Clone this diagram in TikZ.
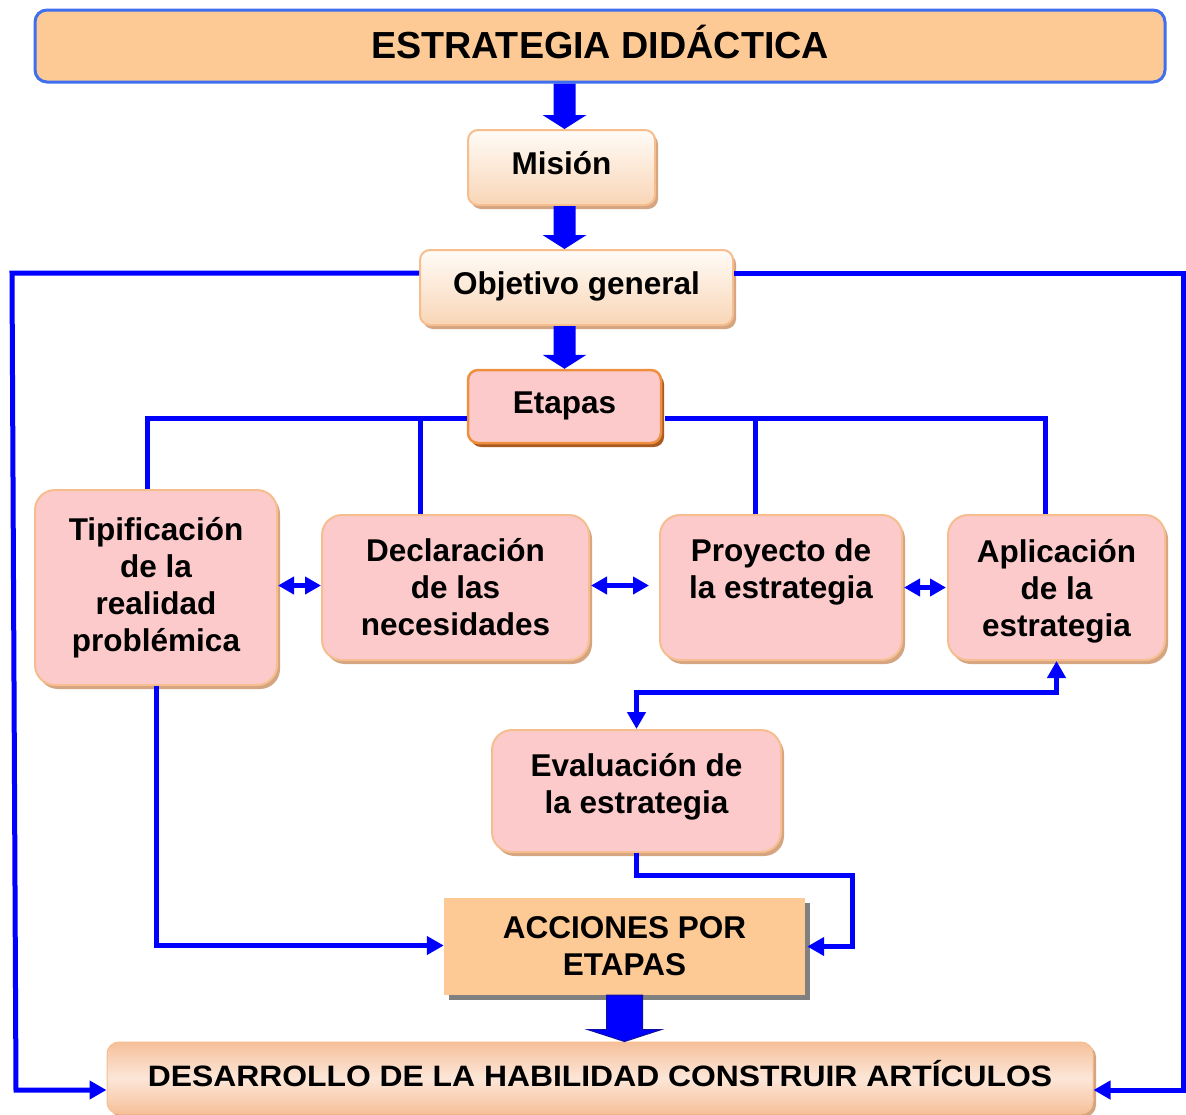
\documentclass[tikz,border=0pt]{standalone}
\usepackage{fontspec}
\setmainfont{Liberation Sans}
\newfontfamily\desfont[FakeStretch=1.08]{Liberation Sans}
\usetikzlibrary{arrows.meta,calc,shadows}
\definecolor{peach}{HTML}{FDCA96}
\definecolor{titleborder}{HTML}{3F6FEF}
\definecolor{pinkfill}{HTML}{FCCACA}
\definecolor{pinkborder}{HTML}{F6BE8F}
\definecolor{pinkshadow}{HTML}{D5A582}
\definecolor{etborder}{HTML}{EE8F40}
\definecolor{etshadow}{HTML}{A85A20}
\definecolor{gradtop}{HTML}{FFFBF7}
\definecolor{gradbot}{HTML}{F9D6B6}
\definecolor{desA}{HTML}{F6C09A}
\definecolor{desB}{HTML}{FCE6D8}
\definecolor{arrowedge}{HTML}{1010A0}
\newcommand\blkarrow[6]{%
  \path let \p1=(#2), \p2=(#3) in [#1]
    (\x1-#4,\y1) -- (\x1+#4,\y1) -- (\x1+#4,\y2+#6) -- (\x1+#5,\y2+#6)
    -- (\x1,\y2) -- (\x1-#5,\y2+#6) -- (\x1-#4,\y2+#6) -- cycle;}
\tikzset{
  bodyfont/.style={font=\fontsize{31.5}{37}\selectfont\bfseries},
  oneline/.style={text height=22.5pt, text depth=8pt},
  pinkbox/.style={bodyfont, align=center, inner sep=0pt, rounded corners=20pt,
    fill=pinkfill, draw=pinkborder, line width=2pt,
    drop shadow={shadow xshift=3pt, shadow yshift=-4pt, fill=pinkshadow, opacity=1}},
  gradbox/.style={bodyfont, oneline, align=center, inner sep=0pt, rounded corners=10pt,
    top color=gradtop, bottom color=gradbot, draw=pinkborder, line width=2pt,
    drop shadow={shadow xshift=3pt, shadow yshift=-4pt, fill=pinkshadow, opacity=1}},
  conn/.style={draw=blue, line width=5pt, -{Triangle[length=17pt,width=18pt]}},
  plain/.style={draw=blue, line width=5pt},
  dbl/.style={draw=blue, line width=5pt, {Triangle[length=16pt,width=17pt]}-{Triangle[length=16pt,width=17pt]}},
}
\begin{document}
\begin{tikzpicture}[x=1pt,y=-1pt]
\useasboundingbox (0,0) rectangle (1186,1114);
\fill[white] (0,0) rectangle (1186,1114);

% nodes
\node[draw=titleborder, line width=3pt, fill=peach, rounded corners=12pt,
  minimum width=1130pt, minimum height=72pt, inner sep=0pt, text height=27pt, text depth=2pt,
  font=\fontsize{37.7}{42}\selectfont\bfseries] (title) at (600,46) {ESTRATEGIA DIDÁCTICA};

\node[gradbox, minimum width=187pt, minimum height=75pt] (mis) at (561.5,167.5) {Misión};
\node[gradbox, minimum width=313pt, minimum height=75pt] (obj) at (576.5,287.5) {Objetivo general};
\node[bodyfont, oneline, inner sep=0pt, rounded corners=10pt, fill=pinkfill, draw=etborder, line width=2.5pt,
  drop shadow={shadow xshift=3pt, shadow yshift=-4pt, fill=etshadow, opacity=1},
  minimum width=193pt, minimum height=73pt] (eta) at (564.5,406.5) {Etapas};

\node[pinkbox, minimum width=242pt, minimum height=195pt] (tip) at (156,587.5)
  {Tipificación\\de la\\realidad\\problémica};
\node[pinkbox, minimum width=267pt, minimum height=145pt] (dec) at (455.5,587.5)
  {Declaración\\de las\\necesidades};
\node[pinkbox, minimum width=242pt, minimum height=145pt] (pro) at (781,587.5)
  {Proyecto de\\la estrategia\\\mbox{}};
\node[pinkbox, text depth=0pt, minimum width=217pt, minimum height=145pt] (apl) at (1056.5,587.5)
  {Aplicación\\de la\\estrategia};
\node[pinkbox, text depth=14.5pt, minimum width=289pt, minimum height=122pt] (eva) at (636.5,791)
  {Evaluación de\\la estrategia};

\node[bodyfont, align=center, inner sep=0pt, fill=peach,
  drop shadow={shadow xshift=5pt, shadow yshift=-5pt, fill=gray, opacity=1},
  minimum width=361pt, minimum height=97pt] (acc) at (624.5,946.5) {ACCIONES POR\\ETAPAS};

\node[font=\desfont\fontsize{29.5}{34}\selectfont\bfseries, inner sep=0pt, rounded corners=12pt,
  text height=21pt, text depth=4pt,
  draw=pinkborder, line width=1pt, top color=desA, bottom color=desA, middle color=desB,
  drop shadow={shadow xshift=3pt, shadow yshift=-3pt, fill=pinkshadow, opacity=1},
  minimum width=986pt, minimum height=72pt] (des) at (600,1078)
  {DESARROLLO DE LA HABILIDAD CONSTRUIR ARTÍCULOS};

% block arrows
\blkarrow{fill=blue}{eta.north |- title.south}{eta.north |- mis.north}{11pt}{22pt}{14pt}
\blkarrow{fill=blue}{eta.north |- mis.south}{eta.north |- obj.north}{11pt}{22pt}{14pt}
\blkarrow{fill=blue}{eta.north |- obj.south}{eta.north}{11pt}{22pt}{14pt}
\blkarrow{fill=blue, draw=arrowedge, line width=1pt}{acc.south}{des.north}{18pt}{37pt}{12pt}

% outer feedback lines
\draw[conn] ([yshift=14.5pt]obj.west) -- (12,273) -- (16,1090) -- ([yshift=-12pt]des.west);
\draw[conn] ([yshift=14.5pt]obj.east) -- (1183,273) -- (1183,1090) -- ([yshift=-12pt]des.east);

% etapas branches
\draw[plain] ([yshift=-11.5pt]eta.west) -- (147,418) -- (147,0 |- tip.north);
\draw[plain] (420,418) -- (420,0 |- dec.north);
\draw[plain] ([yshift=-11.5pt,xshift=3pt]eta.east) -- (1045,418) -- (1045,0 |- apl.north);
\draw[plain] (755,418) -- (755,0 |- pro.north);

% double arrows between stages
\draw[dbl] ([yshift=2pt]tip.east) -- ([yshift=2pt]dec.west);
\draw[dbl] ([yshift=2pt,xshift=1pt]dec.east) -- ([yshift=2pt,xshift=-10pt]pro.west);
\draw[dbl] ([xshift=1pt]pro.east) -- ([xshift=-1pt]apl.west);

% aplicacion <-> evaluacion
\draw[draw=blue, line width=5pt, {Triangle[length=17pt,width=18pt]}-{Triangle[length=17pt,width=18pt]}]
  (eva.north) -- ++(0,-37) -| (apl.south);

% to acciones
\draw[conn] (eva.south) |- (852,875) |- ([xshift=2pt]acc.east);
\draw[conn] (tip.south) |- ([yshift=1pt]acc.west);
\end{tikzpicture}
\end{document}
